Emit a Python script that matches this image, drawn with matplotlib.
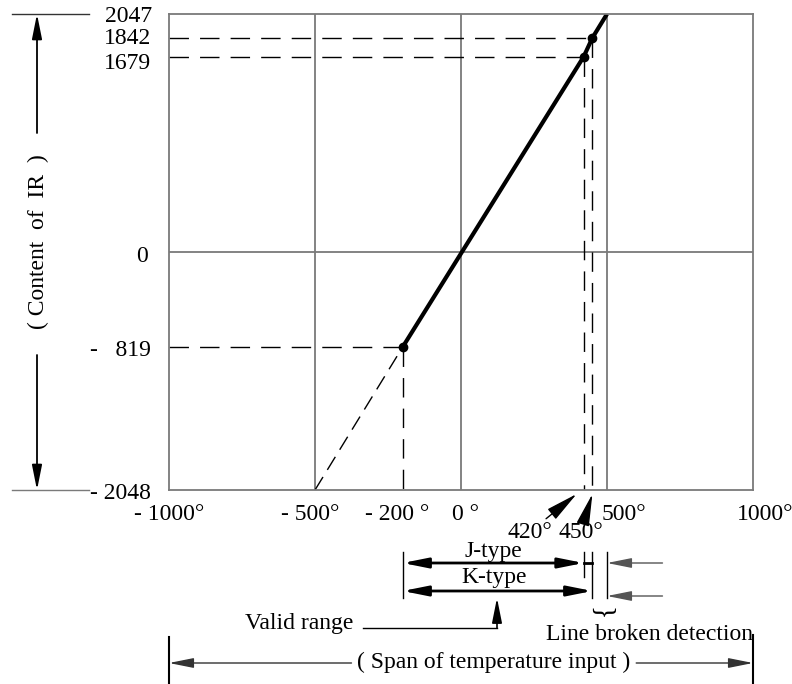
import matplotlib.pyplot as plt
import matplotlib.transforms as mtransforms

plt.rcParams['font.family'] = ['Liberation Serif', 'DejaVu Serif']

# axis ranges: temperature (deg) and content of IR
temp_limits = [-1000, 1000]
ir_limits = [-2048, 2047]
grid_temps = [-500, 0, 500]

# conversion line, valid part and extrapolated part
line_temps = [-200, 420, 450, 500]
line_ir = [-819, 1679, 1842, 2047]
extra_temps = [-500, -200]
extra_ir = [-2048, -819]

mark_temps = [-200, 420, 450]
mark_ir = [-819, 1679, 1842]

xtick_vals = [-1000, -500, -200, 0, 500, 1000]
xtick_text = ['- 1000°', '- 500°', '- 200 °', '0 °', '500°', '1000°']
ytick_vals = [2047, 1842, 1679, 0, -819, -2048]
ytick_text = ['2047', '1842', '1679', '0', '-   819', '- 2048']

valid_low = -200
j_high = 420
k_high = 450
broken_at = 500

W, H = 792, 684
fig = plt.figure(figsize=(W / 100, H / 100), dpi=100)
ax = fig.add_axes([169 / W, 1 - 490 / H, 584 / W, 476 / H])
ax.set_xlim(temp_limits)
ax.set_ylim(ir_limits)
ax.set_xticks([])
ax.set_yticks([])
for s in ax.spines.values():
    s.set_color('#7a7a7a')
    s.set_linewidth(1.3)

# pixel helpers for the drawing around the box
px = mtransforms.Affine2D().scale(1 / W, -1 / H).translate(0, 1) + fig.transFigure
below = mtransforms.blended_transform_factory(ax.transData, px)
left = mtransforms.blended_transform_factory(px, ax.transData)

GRAY = '#7a7a7a'
FS = 17
BIGHEAD = '-|>,head_length=2.0,head_width=0.4'

for t in grid_temps:
    ax.axvline(t, color=GRAY, lw=1.3)
ax.axhline(0, color=GRAY, lw=1.3)

dash = (0, (14, 8))
for t, v in zip(mark_temps, mark_ir):
    ax.plot([temp_limits[0], t], [v, v], color='black', lw=1, ls=dash)
    ax.plot([t, t], [v, ir_limits[0]], color='black', lw=1, ls=dash)
ax.plot(extra_temps, extra_ir, color='black', lw=1, ls=(0, (11, 6)))
ax.plot(line_temps, line_ir, color='black', lw=3, solid_capstyle='butt')
ax.plot(mark_temps, mark_ir, 'o', color='black', ms=6)

# tick labels
xshift = [0, -5, -5, 5, 17, 12]
for v, s, dx in zip(xtick_vals, xtick_text, xshift):
    ax.annotate(s, xy=(v, 490), xycoords=below, xytext=(dx, -25),
                textcoords='offset pixels', ha='center', va='center',
                fontsize=FS, annotation_clip=False)
ydy = [-3, -1, -7, -5, -3, -3]
ydx = [152, 151, 151, 148, 151, 151]
for v, s, dy, x in zip(ytick_vals, ytick_text, ydy, ydx):
    ax.annotate(s, xy=(x, v), xycoords=left, xytext=(0, dy),
                textcoords='offset pixels', ha='right', va='center',
                fontsize=FS, annotation_clip=False)


def arrow(p0, p1, tr, style='-|>', lw=1.0, color='black'):
    ax.annotate('', xy=p1, xycoords=tr, xytext=p0, textcoords=tr,
                arrowprops=dict(arrowstyle=style + ',head_length=1.5,head_width=0.3',
                                lw=lw, color=color, shrinkA=0, shrinkB=0,
                                mutation_scale=10),
                annotation_clip=False)


def seg(xs, ys, tr, lw=1.0, color='black'):
    ax.plot(xs, ys, transform=tr, color=color, lw=lw, clip_on=False)


# content of IR dimension on the left
seg([12, 89], [14, 14], px, color='#333333')
seg([12, 89], [490, 490], px, color=GRAY)
arrow((37, 133), (37, 14), px, lw=1.3)
arrow((37, 355), (37, 490), px, lw=1.3)
ax.text(38, 242, '( Content  of  IR  )', transform=px, rotation=90,
        ha='center', va='center', fontsize=FS)

# 420 / 450 pointers
tip420 = mtransforms.offset_copy(below, fig, x=-7, y=0, units='dots')
for t, tr, dx in [(j_high, tip420, -47), (k_high, below, -12)]:
    ax.annotate(f'{t}°', xy=(t, 494), xycoords=tr, xytext=(dx, -38),
                textcoords='offset pixels', ha='center', va='center', fontsize=FS,
                arrowprops=dict(arrowstyle=BIGHEAD, color='black', lw=1,
                                shrinkA=0, shrinkB=0, mutation_scale=10),
                annotation_clip=False)

# J / K type ranges
seg([valid_low] * 2, [552, 598], below)
seg([j_high] * 2, [552, 577], below)
seg([k_high] * 2, [552, 598], below)
seg([broken_at] * 2, [552, 598], below)
arrow((valid_low, 563), (j_high, 563), below, style='<|-|>', lw=2)
seg([j_high, k_high], [563, 563], below, lw=2)
arrow((valid_low, 591), (k_high, 591), below, style='<|-|>', lw=2)
mid = (valid_low + j_high) / 2
ax.text(mid, 551, 'J-type', transform=below, ha='center', va='center', fontsize=FS)
ax.text(mid + 5, 577, 'K-type', transform=below, ha='center', va='center', fontsize=FS)

# line broken detection
arrow((690, 563), (broken_at, 563), below, color='#555555')
arrow((690, 596), (broken_at, 596), below, color='#555555')
ax.text((k_high + broken_at) / 2, 614, '}', transform=below, rotation=270,
        ha='center', va='center', fontsize=20, fontweight='light')
ax.text(temp_limits[1], 634, 'Line broken detection', transform=below,
        ha='right', va='center', fontsize=FS)

# valid range pointer
ax.text(353, 624, 'Valid range', transform=px, ha='right', va='center', fontsize=FS)
seg([363, 497], [628, 628], px)
arrow((497, 628), (497, 598), px, lw=1.2)

# span of temperature input
seg([temp_limits[0]] * 2, [637, 684], below, lw=1.5)
seg([temp_limits[1]] * 2, [635, 684], below, lw=1.5)
ax.text(494, 662, '( Span of temperature input )', transform=px,
        ha='center', va='center', fontsize=FS)
arrow((-375, 663), (temp_limits[0], 663), below, color='#333333')
arrow((600, 663), (temp_limits[1], 663), below, color='#333333')

plt.savefig('out.png', dpi=100)
